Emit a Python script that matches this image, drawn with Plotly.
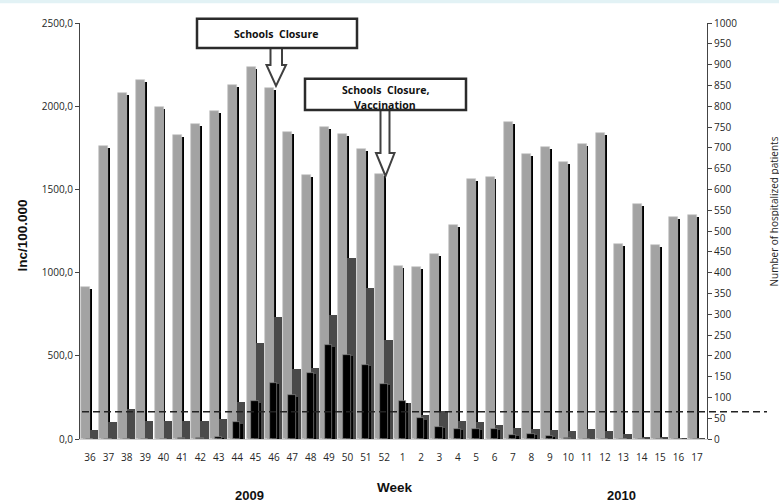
import plotly.graph_objects as go

weeks = ["36","37","38","39","40","41","42","43","44","45","46","47","48","49","50","51","52",
         "1","2","3","4","5","6","7","8","9","10","11","12","13","14","15","16","17"]
light_vals = [915, 1760, 2078, 2158, 1998, 1826, 1896, 1972, 2130, 2235, 2108, 1842, 1586, 1878, 1830, 1740, 1590,
              1040, 1033, 1114, 1288, 1562, 1576, 1903, 1714, 1757, 1665, 1775, 1837, 1171, 1411, 1165, 1336, 1348]
dark_vals = [52, 102, 180, 106, 110, 108, 110, 120, 224, 574, 732, 422, 424, 746, 1090, 910, 592,
             216, 147, 168, 108, 100, 82, 68, 60, 54, 46, 60, 46, 32, 12, 10, 6, 4]
black_vals = [0, 0, 0, 0, 0, 4, 4, 14, 100, 227, 336, 262, 396, 562, 504, 446, 332,
              226, 125, 75, 63, 63, 60, 27, 33, 20, 4, 2, 0, 0, 0, 0, 0, 0]
left_ticks = [0, 500, 1000, 1500, 2000, 2500]
left_labels = ["0,0", "500,0", "1000,0", "1500,0", "2000,0", "2500,0"]
right_ticks = list(range(0, 1001, 50))
threshold = 164

x = list(range(len(weeks)))

W, H = 779, 503
L, R, T, B = 80, 72, 23, 64
PW, PH = W - L - R, H - T - B

def xp(px):
    return (px - L) / PW

def yp(py):
    return (H - B - py) / PH

fig = go.Figure()
# light gray shadow
fig.add_trace(go.Bar(x=x, y=[max(v - 12, 0) for v in light_vals], offset=-0.39, width=0.49,
                     marker=dict(color="#000000", line=dict(width=0)), hoverinfo="skip", showlegend=False))
fig.add_trace(go.Bar(x=x, y=light_vals, offset=-0.49, width=0.49, name="light",
                     marker=dict(color="#a3a3a3", line=dict(width=0.7, color="#c9c9c9")), showlegend=False))
fig.add_trace(go.Bar(x=x, y=dark_vals, offset=0.0, width=0.45, name="dark",
                     marker=dict(color="#4a4a4a", line=dict(width=0)), showlegend=False))
fig.add_trace(go.Bar(x=x, y=[max(v - 8, 0) for v in black_vals], offset=-0.10, width=0.40,
                     marker=dict(color="#000000", line=dict(width=0)), hoverinfo="skip", showlegend=False))
fig.add_trace(go.Bar(x=x, y=black_vals, offset=-0.22, width=0.40, name="black",
                     marker=dict(color="#000000", line=dict(width=0.7, color="#8a8a8a")), showlegend=False))
# dummy for right axis
fig.add_trace(go.Scatter(x=[0], y=[0], yaxis="y2", mode="markers", marker=dict(opacity=0),
                         hoverinfo="skip", showlegend=False))

tickfont = dict(family="Open Sans", size=10, color="#262626")
fig.update_layout(
    width=W, height=H, autosize=False,
    margin=dict(l=L, r=R, t=T, b=B, pad=0),
    paper_bgcolor="white", plot_bgcolor="white",
    barmode="overlay", bargap=0,
    xaxis=dict(range=[-0.544, 33.55], tickvals=x, ticktext=weeks, ticks="outside", ticklen=9,
               tickcolor="rgba(0,0,0,0)", showline=True, linecolor="#d0d0d0", linewidth=1,
               showgrid=False, zeroline=False, tickfont=tickfont, fixedrange=True),
    yaxis=dict(range=[0, 2500], tickvals=left_ticks, ticktext=left_labels, ticks="outside",
               ticklen=4, tickcolor="#444", showline=True, linecolor="#444", linewidth=1,
               showgrid=False, zeroline=False, tickfont=tickfont),
    yaxis2=dict(range=[0, 1000], overlaying="y", side="right", tickvals=right_ticks,
                ticktext=[str(v) for v in right_ticks], ticks="outside", ticklen=4, tickcolor="#444",
                showline=True, linecolor="#444", linewidth=1, showgrid=False, zeroline=False,
                tickfont=tickfont),
)

shapes = []
# top band
shapes.append(dict(type="rect", xref="paper", yref="paper", x0=xp(0), x1=xp(W), y0=yp(0), y1=yp(3.3),
                   fillcolor="#e2f2f5", line=dict(width=0), layer="above"))
# threshold dashed line
shapes.append(dict(type="line", xref="paper", yref="paper", x0=xp(82), x1=xp(767),
                   y0=threshold / 2500, y1=threshold / 2500,
                   line=dict(color="#222", width=1.5, dash="7px,4px"), layer="above"))

def path(points):
    s = "M " + " L ".join(f"{xp(a):.5f},{yp(b):.5f}" for a, b in points) + " Z"
    return s

# box 1 and arrow
shapes.append(dict(type="path", xref="paper", yref="paper",
                   path=path([(270.5, 48), (270.5, 65), (266.5, 65), (276, 86), (286, 65), (282, 65), (282, 48)]),
                   fillcolor="white", line=dict(color="#404040", width=2), layer="above"))
shapes.append(dict(type="rect", xref="paper", yref="paper", x0=xp(197), x1=xp(357), y0=yp(48), y1=yp(18.7),
                   fillcolor="white", line=dict(color="#2b2b2b", width=2.5), layer="above"))
# box 2 and arrow
shapes.append(dict(type="path", xref="paper", yref="paper",
                   path=path([(380.5, 110), (380.5, 153), (376, 153), (385.5, 176), (394.5, 153), (389.5, 153), (389.5, 110)]),
                   fillcolor="white", line=dict(color="#404040", width=2), layer="above"))
shapes.append(dict(type="rect", xref="paper", yref="paper", x0=xp(305), x1=xp(466), y0=yp(110), y1=yp(78.7),
                   fillcolor="white", line=dict(color="#2b2b2b", width=2.5), layer="above"))
fig.update_layout(shapes=shapes)

def ann(text, px, py, size, family="Open Sans", angle=0, color="#111"):
    return dict(text=text, xref="paper", yref="paper", x=xp(px), y=yp(py), xanchor="center",
                yanchor="middle", showarrow=False, textangle=angle,
                font=dict(family=family, size=size, color=color))

anns = [
    ann("<b>Schools  Closure</b>", 276, 34, 10.5),
    ann("<b>Schools  Closure,</b>", 385, 90, 10.5),
    ann("<b>Vaccination</b>", 385, 105, 10.5),
    ann("<b>Inc/100.000</b>", 21.5, 236, 13.5, family="Liberation Sans", angle=-90),
    ann("Number of hospitalized patients", 773, 211.5, 10, angle=-90, color="#262626"),
    ann("<b>Week</b>", 395, 487, 13.5, family="Liberation Sans"),
    ann("<b>2009</b>", 249, 495, 13, family="Liberation Sans"),
    ann("<b>2010</b>", 621, 495, 13, family="Liberation Sans"),
]
fig.update_layout(annotations=anns)

fig.write_html("out.html")
